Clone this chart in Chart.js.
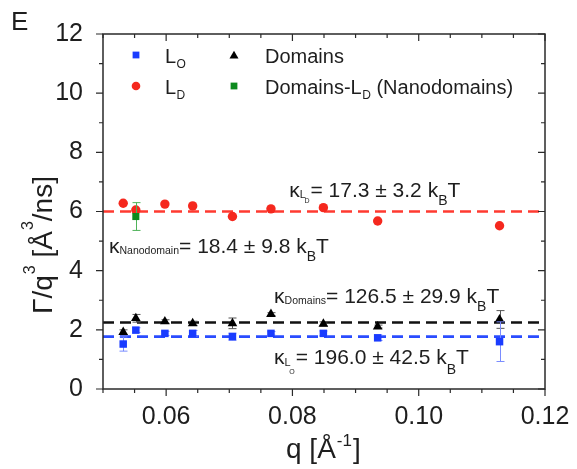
<!DOCTYPE html>
<html>
<head>
<meta charset="utf-8">
<script src="https://cdn.jsdelivr.net/npm/chart.js@4.4.1/dist/chart.umd.min.js"></script>
<style>
  html, body { margin: 0; padding: 0; background: #ffffff; }
  #wrap { width: 577px; height: 469px; }
</style>
</head>
<body>
<div id="wrap"><canvas id="c" width="577" height="469"></canvas></div>
<script>
// Relaxation rate Γ/q³ versus q for the ordered, disordered and domain phases
const qMin = 0.05, qMax = 0.12;
const yMin = 0, yMax = 12;

const qValues   = [0.0532, 0.0552, 0.0598, 0.0642, 0.0705, 0.0766, 0.0849, 0.0935, 0.1128];
const loValues  = [1.52, 1.99, 1.88, 1.88, 1.77, 1.88, 1.88, 1.73, 1.60];
const loErrors  = [0.24, 0.08, 0.07, 0.10, 0.12, 0.06, 0.08, 0.09, 0.67];
const ldValues  = [6.28, 6.05, 6.25, 6.19, 5.83, 6.09, 6.13, 5.68, 5.52];
const domValues = [1.92, 2.39, 2.28, 2.22, 2.22, 2.53, 2.20, 2.11, 2.35];
const domErrors = [0.08, 0.13, 0.06, 0.07, 0.18, 0.05, 0.07, 0.05, 0.30];
const nanoQ      = [0.0552];
const nanoValues = [5.83];
const nanoErrors = [0.47];

// Fitted Γ/q³ levels (horizontal dashed lines)
const ldFit = 6.0;
const domFit = 2.25;
const loFit = 1.77;

const FONT = '"Liberation Sans", Arial, Helvetica, sans-serif';
const INK = '#1e1e1e';
const BLUE = '#1a3cff';
const RED = '#f5281e';
const GREEN = '#0c8a1e';

const pts = (xs, ys) => xs.map((x, i) => ({ x: x, y: ys[i] }));
const level = v => [{ x: qMin, y: v }, { x: qMax, y: v }];

// Draws a run of text pieces (with sub/superscripts) left to right from a baseline
function drawRich(ctx, x, y, parts) {
  let cx = x;
  for (const p of parts) {
    ctx.font = p.size + 'px ' + FONT;
    cx += (p.dx || 0);
    ctx.fillText(p.t, cx, y + (p.dy || 0));
    cx += ctx.measureText(p.t).width;
  }
  return cx;
}

const errorBars = {
  id: 'errorBars',
  beforeDatasetDraw(chart, args) {
    const ds = chart.data.datasets[args.index];
    if (!ds.errors) return;
    const ctx = chart.ctx, ys = chart.scales.y;
    ctx.save();
    ctx.strokeStyle = ds.errorColor;
    ctx.lineWidth = 1;
    args.meta.data.forEach((el, i) => {
      const v = ds.data[i].y, e = ds.errors[i];
      const top = ys.getPixelForValue(v + e), bot = ys.getPixelForValue(v - e);
      const x = Math.round(el.x) + 0.5;
      ctx.beginPath();
      ctx.moveTo(x, top); ctx.lineTo(x, bot);
      ctx.moveTo(x - 4, top); ctx.lineTo(x + 4, top);
      ctx.moveTo(x - 4, bot); ctx.lineTo(x + 4, bot);
      ctx.stroke();
    });
    ctx.restore();
  }
};

const frameAndDecor = {
  id: 'frameAndDecor',
  afterDraw(chart) {
    const ctx = chart.ctx, a = chart.chartArea;
    const xs = chart.scales.x, ys = chart.scales.y;
    ctx.save();

    // Frame
    ctx.strokeStyle = '#2a2a2a';
    ctx.lineWidth = 1.5;
    ctx.strokeRect(a.left, a.top, a.right - a.left, a.bottom - a.top);

    // Tick marks: outward on bottom/left, inward on top/right
    ctx.lineWidth = 1.2;
    ctx.beginPath();
    for (let k = 0; k <= 14; k++) {
      const q = qMin + k * 0.005;
      const major = (Math.round(q * 1000) % 20 === 0);
      const len = major ? 7 : 4;
      const px = xs.getPixelForValue(q);
      ctx.moveTo(px, a.bottom); ctx.lineTo(px, a.bottom + len);
      ctx.moveTo(px, a.top); ctx.lineTo(px, a.top + len);
    }
    for (let v = yMin; v <= yMax; v++) {
      const major = (v % 2 === 0);
      const len = major ? 7 : 4;
      const py = ys.getPixelForValue(v);
      ctx.moveTo(a.left, py); ctx.lineTo(a.left - len, py);
      ctx.moveTo(a.right, py); ctx.lineTo(a.right - len, py);
    }
    ctx.stroke();

    ctx.fillStyle = INK;
    ctx.textBaseline = 'alphabetic';
    ctx.textAlign = 'left';

    // Panel letter
    ctx.font = '26px ' + FONT;
    ctx.fillText('E', 11, 30);

    // X axis title
    drawRich(ctx, 286, 458, [
      { t: 'q [Å', size: 28 },
      { t: '-1', size: 17, dy: -12, dx: 1 },
      { t: ']', size: 28, dx: 1 }
    ]);

    // Y axis title (rotated)
    ctx.save();
    ctx.translate(52, 314);
    ctx.rotate(-Math.PI / 2);
    drawRich(ctx, 0, 0, [
      { t: 'Γ/q', size: 28 },
      { t: '3', size: 16, dy: -17, dx: 1 },
      { t: ' [Å', size: 28 },
      { t: '3', size: 16, dy: -19, dx: 1 },
      { t: '/ns]', size: 28 }
    ]);
    ctx.restore();

    // Legend
    const H = Chart.helpers;
    const mark = (style, color, r, x, y) => {
      ctx.fillStyle = color; ctx.strokeStyle = color;
      H.drawPoint(ctx, { pointStyle: style, radius: r, rotation: 0, borderWidth: 0 }, x, y);
    };
    const lx1 = a.left + 33, lx2 = a.left + 131, tx1 = a.left + 62, tx2 = a.left + 162;
    const r1 = a.top + 21, r2 = a.top + 52;
    mark('rect', BLUE, 4.8, lx1, r1);
    mark('triangle', '#000', 5.2, lx2, r1 + 1);
    mark('circle', RED, 4.3, lx1, r2);
    mark('rect', GREEN, 4.8, lx2, r2);
    ctx.fillStyle = INK;
    drawRich(ctx, tx1, r1 + 8, [{ t: 'L', size: 20 }, { t: 'O', size: 12, dy: 5, dx: 0.5 }]);
    drawRich(ctx, tx2, r1 + 8, [{ t: 'Domains', size: 20 }]);
    drawRich(ctx, tx1, r2 + 8, [{ t: 'L', size: 20 }, { t: 'D', size: 12, dy: 5, dx: 0.5 }]);
    drawRich(ctx, tx2, r2 + 8, [
      { t: 'Domains-L', size: 20 }, { t: 'D', size: 12, dy: 5, dx: 0.5 },
      { t: ' (Nanodomains)', size: 20 }
    ]);

    // Bending-modulus annotations
    const at = (q, v) => [xs.getPixelForValue(q), ys.getPixelForValue(v)];
    let p;
    p = at(0.0795, 6.50);
    drawRich(ctx, p[0], p[1], [
      { t: 'κ', size: 21 }, { t: 'L', size: 11, dy: 1 }, { t: 'D', size: 7, dy: 6, dx: -1.5 },
      { t: '= 17.3 ± 3.2 k', size: 21, dx: 1 }, { t: 'B', size: 14, dy: 8 }, { t: 'T', size: 21 }
    ]);
    p = at(0.05095, 4.59);
    drawRich(ctx, p[0], p[1], [
      { t: 'κ', size: 21 }, { t: 'Nanodomain', size: 10.5, dy: 1 },
      { t: '= 18.4 ± 9.8 k', size: 21 }, { t: 'B', size: 14, dy: 8 }, { t: 'T', size: 21 }
    ]);
    p = at(0.0771, 2.90);
    drawRich(ctx, p[0], p[1], [
      { t: 'κ', size: 21 }, { t: 'Domains', size: 10.5, dy: 1 },
      { t: '= 126.5 ± 29.9 k', size: 21 }, { t: 'B', size: 14, dy: 8 }, { t: 'T', size: 21 }
    ]);
    p = at(0.0771, 0.845);
    drawRich(ctx, p[0], p[1], [
      { t: 'κ', size: 21 }, { t: 'L', size: 11, dy: 2 }, { t: 'O', size: 7, dy: 10, dx: -1.5 },
      { t: '= 196.0 ± 42.5 k', size: 21, dx: 1 }, { t: 'B', size: 14, dy: 10 }, { t: 'T', size: 21 }
    ]);

    ctx.restore();
  }
};

new Chart(document.getElementById('c'), {
  type: 'scatter',
  data: {
    datasets: [
      { label: 'Fit LD', type: 'line', data: level(ldFit), borderColor: '#ff3a30', borderWidth: 2.6,
        borderDash: [11, 6], pointRadius: 0, fill: false, order: 5 },
      { label: 'Fit Domains', type: 'line', data: level(domFit), borderColor: '#111111', borderWidth: 2.6,
        borderDash: [11, 6], pointRadius: 0, fill: false, order: 5 },
      { label: 'Fit LO', type: 'line', data: level(loFit), borderColor: '#2a4cff', borderWidth: 2.6,
        borderDash: [11, 6], pointRadius: 0, fill: false, order: 5 },
      { label: 'LO', data: pts(qValues, loValues), errors: loErrors, errorColor: '#7a8cff',
        pointStyle: 'rect', pointRadius: 5.3, backgroundColor: BLUE, borderColor: BLUE, borderWidth: 0, order: 1 },
      { label: 'LD', data: pts(qValues, ldValues),
        pointStyle: 'circle', pointRadius: 4.7, backgroundColor: RED, borderColor: RED, borderWidth: 0, order: 1 },
      { label: 'Domains', data: pts(qValues, domValues), errors: domErrors, errorColor: '#555555',
        pointStyle: 'triangle', pointRadius: 5.6, backgroundColor: '#000000', borderColor: '#000000', borderWidth: 0, order: 1 },
      { label: 'Domains-LD (Nanodomains)', data: pts(nanoQ, nanoValues), errors: nanoErrors, errorColor: '#4fb35a',
        pointStyle: 'rect', pointRadius: 5.0, backgroundColor: GREEN, borderColor: GREEN, borderWidth: 0, order: 0 }
    ]
  },
  options: {
    responsive: false,
    animation: false,
    devicePixelRatio: 1,
    layout: { padding: { top: 34, right: 32, left: 0, bottom: 0 } },
    plugins: { legend: { display: false }, tooltip: { enabled: false } },
    scales: {
      x: {
        type: 'linear', min: qMin, max: qMax,
        grid: { display: false }, border: { display: false },
        ticks: {
          stepSize: 0.005, autoSkip: false, maxRotation: 0, padding: 5,
          color: INK, font: { family: FONT, size: 25 },
          callback: v => (Math.round(v * 1000) % 20 === 0 && v > 0.055) ? v.toFixed(2) : ''
        },
        afterFit(s) { s.height = 80; }
      },
      y: {
        type: 'linear', min: yMin, max: yMax,
        grid: { display: false }, border: { display: false },
        ticks: {
          stepSize: 2, padding: 12, color: INK, font: { family: FONT, size: 25 },
          callback: v => String(v)
        },
        afterFit(s) { s.width = 103; }
      }
    }
  },
  plugins: [errorBars, frameAndDecor]
});
</script>
</body>
</html>
